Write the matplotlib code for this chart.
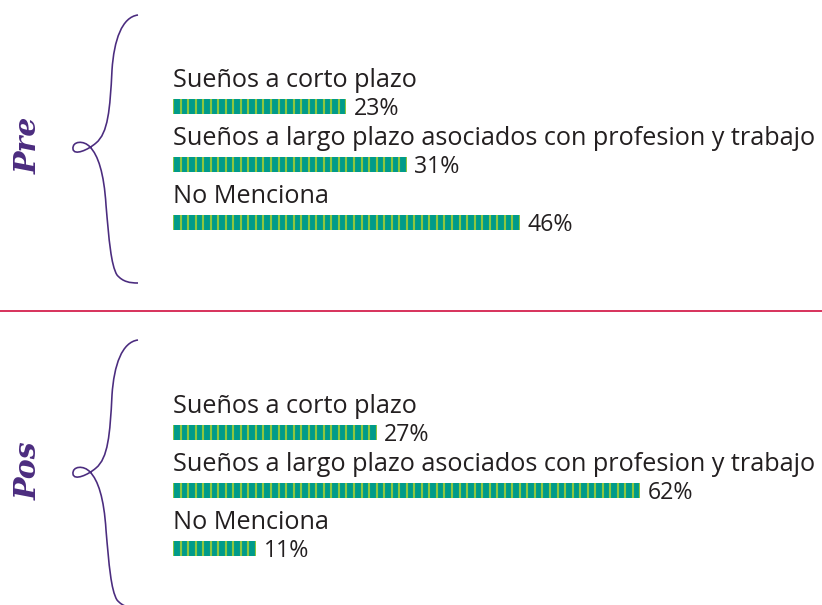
import matplotlib
matplotlib.use("Agg")
import matplotlib.pyplot as plt
from matplotlib.path import Path
from matplotlib.patches import PathPatch

# Data
categories = [
    "Sueños a corto plazo",
    "Sueños a largo plazo asociados con profesion y trabajo",
    "No Menciona",
]
pre_values = [23, 31, 46]
pos_values = [27, 62, 11]
group_names = ["Pre", "Pos"]

W, H, DPI = 822, 605, 90
TEAL = "#009B8A"
GREEN = "#8DC63F"
PURPLE = "#4B2C7F"
TEXT = "#231F20"
RULE = "#D8365F"

plt.rcParams["font.family"] = ["Open Sans", "DejaVu Sans"]

fig = plt.figure(figsize=(W / DPI, H / DPI), dpi=DPI)
fig.patch.set_facecolor("white")

PX_PER_UNIT = 7.54   # pixels per percentage point
ROW = 58.0           # pixels between rows
X0 = 173             # left edge of bars in pixels
LABEL_SIZE = 20.2
VALUE_SIZE = 18.5
BAR_H = 15 / ROW


def fx(px):
    return px / W


def fy(py):
    return 1 - py / H


def add_group(values, first_bar_px):
    top_px, bot_px = first_bar_px - 66, first_bar_px + 164
    ax = fig.add_axes([fx(X0), fy(bot_px), fx(W - X0), (bot_px - top_px) / H])
    ax.set_xlim(0, (W - X0) / PX_PER_UNIT)
    ax.set_ylim((bot_px - first_bar_px) / ROW, (top_px - first_bar_px) / ROW)
    ax.axis("off")
    ys = list(range(len(values)))
    bars = ax.barh(ys, values, height=BAR_H, color=TEAL, linewidth=0)
    for y, v, rect in zip(ys, values, bars):
        # one green stripe per percentage point, clipped to the bar
        stripes = ax.vlines(range(0, v + 1), y - BAR_H / 2, y + BAR_H / 2,
                            colors=GREEN, linewidth=1.7)
        stripes.set_clip_path(rect)
    for y, cat, v in zip(ys, categories, values):
        ax.text(0, y - 19 / ROW, cat, fontsize=LABEL_SIZE, color=TEXT,
                ha="left", va="baseline")
        ax.text(v + 1.0, y + 9 / ROW, f"{v}%", fontsize=VALUE_SIZE,
                color=TEXT, ha="left", va="baseline")
    return ax


def add_brace(top_px):
    pts = [
        (138, 0),
        (122, 2), (114, 25), (112, 55),
        (110, 95), (108, 118), (96, 128),
        (88, 135), (74, 141), (73, 134),
        (72, 126), (84, 125), (90, 132),
        (98, 140), (104, 158), (106, 190),
        (109, 225), (111, 250), (117, 260),
        (123, 267), (130, 268), (138, 268),
    ]
    codes = [Path.MOVETO] + [Path.CURVE4] * (len(pts) - 1)
    verts = [(fx(x), fy(top_px + y)) for x, y in pts]
    fig.add_artist(PathPatch(Path(verts, codes), transform=fig.transFigure,
                             facecolor="none", edgecolor=PURPLE, lw=1.3))


add_group(pre_values, 106)
add_group(pos_values, 432)

add_brace(15)
add_brace(340)

for name, cy in zip(group_names, [145, 471]):
    fig.text(fx(28), fy(cy), name, rotation=90, ha="center", va="center",
             fontsize=24, color=PURPLE, fontstyle="italic", fontweight="bold",
             family=["DejaVu Serif"])

# Separator between the two groups
fig.add_artist(plt.Line2D([0, 1], [fy(311), fy(311)], transform=fig.transFigure,
                          color=RULE, lw=1.6))

fig.savefig("out.png", dpi=DPI, facecolor="white")
